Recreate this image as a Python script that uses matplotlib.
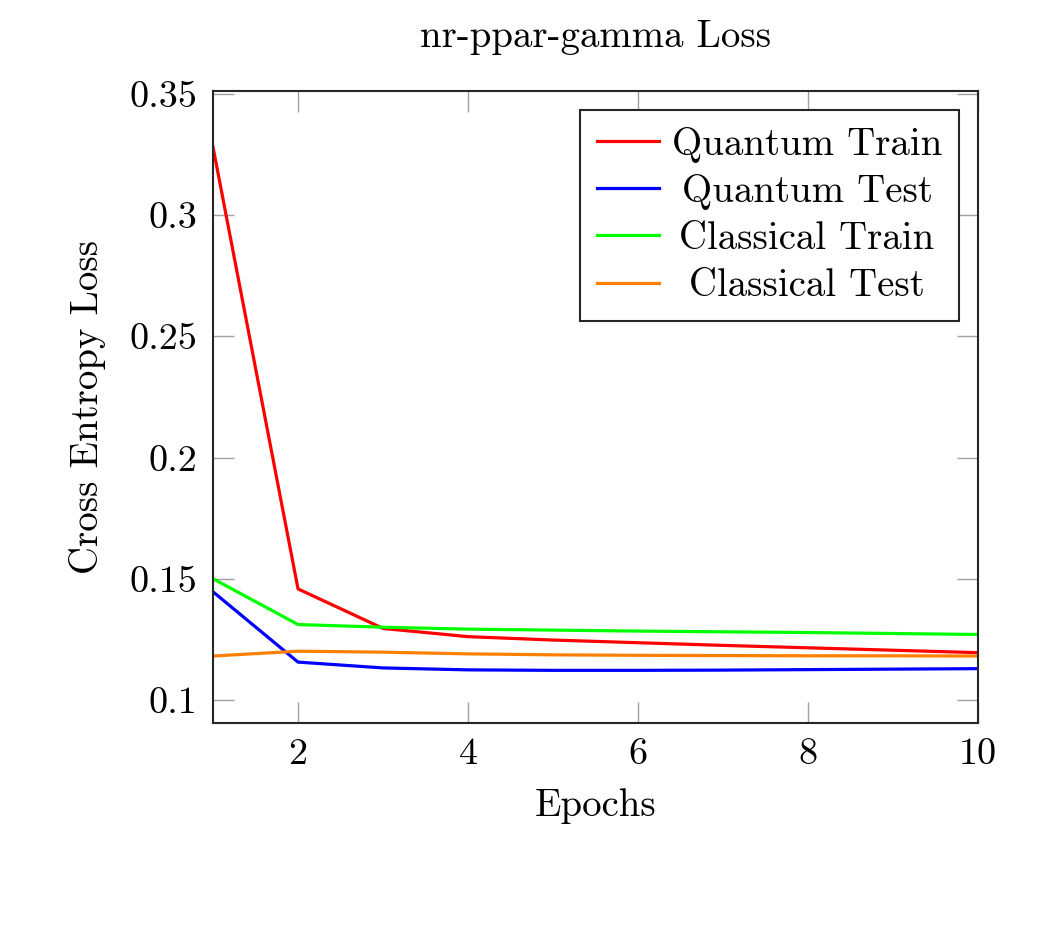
import matplotlib
matplotlib.use("Agg")
import matplotlib.pyplot as plt

# data
epochs = [1, 2, 3, 4, 5, 6, 7, 8, 9, 10]
quantum_train = [0.328, 0.1458, 0.1295, 0.1261, 0.1247, 0.1236, 0.1225, 0.1215, 0.1205, 0.1195]
quantum_test = [0.1446, 0.1156, 0.1132, 0.1124, 0.1122, 0.1122, 0.1123, 0.1125, 0.1127, 0.1129]
classical_train = [0.150, 0.1311, 0.1300, 0.1292, 0.1288, 0.1284, 0.1281, 0.1278, 0.1274, 0.1270]
classical_test = [0.1181, 0.1201, 0.1197, 0.1190, 0.1186, 0.1184, 0.1183, 0.1182, 0.1182, 0.1181]

x_ticks = [2, 4, 6, 8, 10]
y_ticks = [0.1, 0.15, 0.2, 0.25, 0.3, 0.35]
y_labels = ["0.1", "0.15", "0.2", "0.25", "0.3", "0.35"]

plt.rcParams['font.family'] = ['cmr10', 'DejaVu Serif']
plt.rcParams['axes.formatter.use_mathtext'] = True

fig = plt.figure(figsize=(10.63, 9.4), dpi=100)
ax = fig.add_axes([0.2004, 0.2309, 0.7196, 0.6723])

lw = 2.3
ax.plot(epochs, quantum_train, color='#ff0000', lw=lw, label='Quantum Train')
ax.plot(epochs, quantum_test, color='#0000ff', lw=lw, label='Quantum Test')
ax.plot(epochs, classical_train, color='#00ff00', lw=lw, label='Classical Train')
ax.plot(epochs, classical_test, color='#ff8000', lw=lw, label='Classical Test')

ax.set_xlim(1, 10)
ax.set_ylim(0.0905, 0.3512)
ax.set_xticks(x_ticks)
ax.set_xticklabels([str(t) for t in x_ticks])
ax.set_yticks(y_ticks)
ax.set_yticklabels(y_labels)

ax.tick_params(axis='both', direction='in', length=15, width=1, color='#a0a0a0',
               labelsize=27.5, top=True, right=True, pad=11)
for s in ax.spines.values():
    s.set_linewidth(1.5)
    s.set_color('#262626')

ax.set_title('nr-ppar-gamma Loss', fontsize=28, pad=32)
ax.set_xlabel('Epochs', fontsize=28, labelpad=12)
ax.set_ylabel('Cross Entropy Loss', fontsize=28, labelpad=17)

leg = ax.legend(loc='upper right', fontsize=28, frameon=True, fancybox=False,
                edgecolor='#262626', framealpha=1, handlelength=1.6,
                handletextpad=0.33, labelspacing=0.29, borderpad=0.42,
                borderaxespad=0.5)
leg.get_frame().set_linewidth(1.5)

# centre the labels in their cells, as pgfplots does
fig.canvas.draw()
r = fig.canvas.get_renderer()
rows = leg._legend_handle_box.get_children()[0].get_children()
widths = [t.get_window_extent(r).width for t in leg.get_texts()]
wmax = max(widths)
for row, w in zip(rows, widths):
    row.sep += (wmax - w) / 2 * 72 / fig.dpi

fig.savefig('out.png', dpi=100)
